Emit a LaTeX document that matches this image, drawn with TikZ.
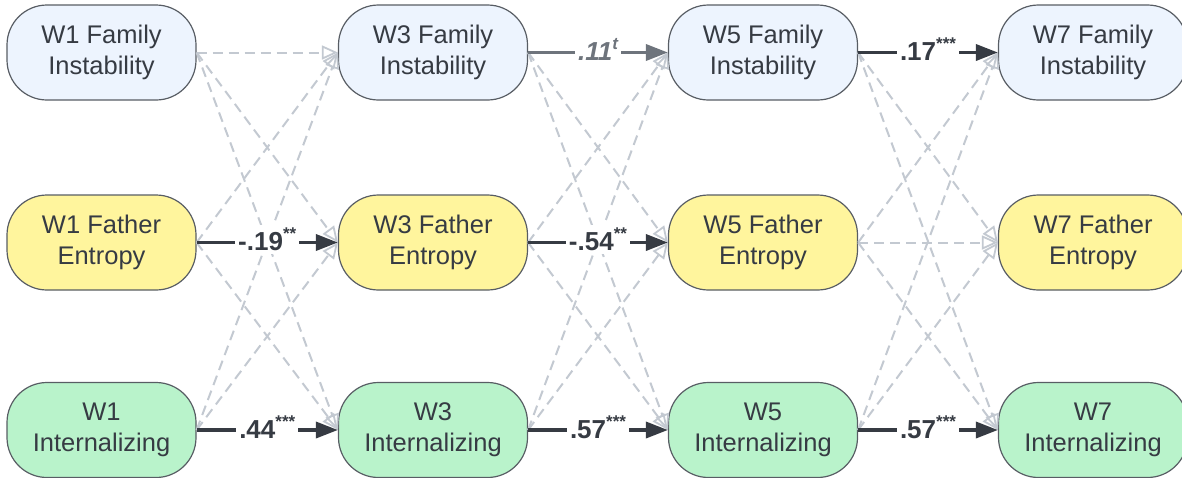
\documentclass[tikz,border=0pt]{standalone}
\usepackage{fontspec}
\setmainfont{Liberation Sans}
\usetikzlibrary{arrows.meta}
\definecolor{bfill}{HTML}{EDF4FE}
\definecolor{yfill}{HTML}{FFF59D}
\definecolor{gfill}{HTML}{B9F3CB}
\definecolor{bord}{HTML}{585D64}
\definecolor{dk}{HTML}{363B43}
\definecolor{mg}{HTML}{6E747C}
\definecolor{lg}{HTML}{C3C9D1}
\newcommand{\sigmark}[1]{\raisebox{0.42em}{\fontsize{17}{17}\selectfont #1}}
\tikzset{
  var/.style={draw=bord, line width=1.2pt, rounded corners=40pt, minimum width=189pt, minimum height=95pt,
    align=center, font=\fontsize{25.5}{31}\selectfont, text=dk, inner sep=0pt},
  fibox/.style={var, fill=bfill},
  febox/.style={var, fill=yfill},
  inbox/.style={var, fill=gfill},
  dpath/.style={draw=lg, line width=2pt, dash pattern=on 10pt off 6pt, -{Triangle[open, length=16pt, width=14pt, line width=1.8pt]}},
  spath/.style={draw=dk, line width=3.5pt, -{Triangle[length=22pt, width=16pt]}},
  gpath/.style={draw=mg, line width=3.5pt, -{Triangle[length=22pt, width=16pt]}},
  coef/.style={fill=white, inner sep=3pt, text=dk, font=\fontsize{26}{28}\selectfont\bfseries, yshift=3pt},
  gcoef/.style={fill=white, inner sep=3pt, text=mg, font=\fontsize{26}{28}\selectfont\bfseries\itshape, yshift=3pt},
}
\begin{document}
\begin{tikzpicture}[x=1pt,y=-1pt]
\path[use as bounding box] (0,0) rectangle (1182,477);
\clip (0,0) rectangle (1182,477);
% nodes
\node[fibox] (fi1) at (101.5,52.5) {W1 Family\\Instability};
\node[fibox] (fi3) at (433,52.5) {W3 Family\\Instability};
\node[fibox] (fi5) at (763,52.5) {W5 Family\\Instability};
\node[fibox] (fi7) at (1093,52.5) {W7 Family\\Instability};
\node[febox] (fe1) at (101.5,242.5) {W1 Father\\Entropy};
\node[febox] (fe3) at (433,242.5) {W3 Father\\Entropy};
\node[febox] (fe5) at (763,242.5) {W5 Father\\Entropy};
\node[febox] (fe7) at (1093,242.5) {W7 Father\\Entropy};
\node[inbox] (in1) at (101.5,430) {W1\\Internalizing};
\node[inbox] (in3) at (433,430) {W3\\Internalizing};
\node[inbox] (in5) at (763,430) {W5\\Internalizing};
\node[inbox] (in7) at (1093,430) {W7\\Internalizing};
% dashed paths
\foreach \a/\b in {fi1/fi3, fi1/fe3, fi1/in3, fe1/fi3, fe1/in3, in1/fi3, in1/fe3,
                   fi3/fe5, fi3/in5, fe3/fi5, fe3/in5, in3/fi5, in3/fe5,
                   fi5/fe7, fi5/in7, fe5/fi7, fe5/fe7, fe5/in7, in5/fi7, in5/fe7}
  \draw[dpath] (\a.east) -- (\b.west);
% solid paths
\draw[gpath] (fi3.east) -- node[gcoef] {.11\sigmark{t}} (fi5.west);
\draw[spath] (fi5.east) -- node[coef] {.17\sigmark{***}} (fi7.west);
\draw[spath] (fe1.east) -- node[coef] {-.19\sigmark{**}} (fe3.west);
\draw[spath] (fe3.east) -- node[coef] {-.54\sigmark{**}} (fe5.west);
\draw[spath] (in1.east) -- node[coef] {.44\sigmark{***}} (in3.west);
\draw[spath] (in3.east) -- node[coef] {.57\sigmark{***}} (in5.west);
\draw[spath] (in5.east) -- node[coef] {.57\sigmark{***}} (in7.west);
\end{tikzpicture}
\end{document}
